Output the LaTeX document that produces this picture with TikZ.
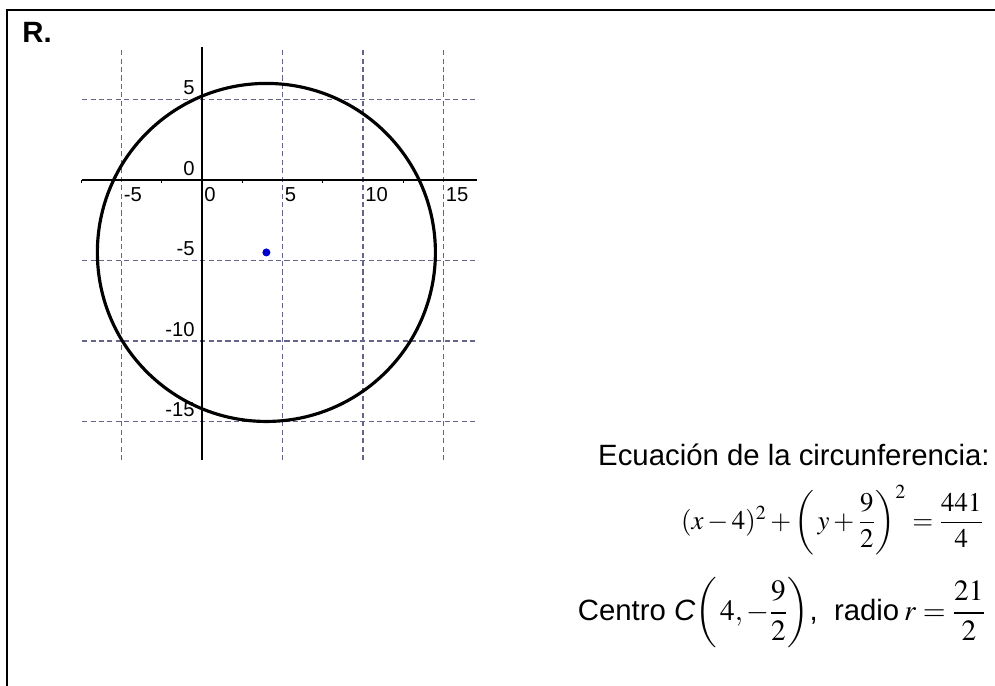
\documentclass[tikz,border=0pt]{standalone}
\usepackage{amsmath}
\usepackage{mathptmx}
\usepackage[no-math]{fontspec}
\setmainfont{Liberation Sans}
\usetikzlibrary{positioning}
\definecolor{gridgray}{HTML}{65658C}
\definecolor{ptblue}{HTML}{0000CC}
\tikzset{
  gridline/.style={gridgray,line width=1pt,dash pattern=on 2.9pt off 1.9pt},
  axislab/.style={inner sep=0pt,font=\fontsize{11.5pt}{13pt}\selectfont},
  bigtext/.style={inner sep=0pt,font=\fontsize{16.7pt}{20pt}\selectfont}
}
\begin{document}
\begin{tikzpicture}[x=0.02cm,y=-0.02cm]
  \useasboundingbox (0,0) rectangle (995,686);
  % frame
  \draw[line width=1.13pt] (7,686) -- (7,10) -- (995,10);
  \node[bigtext,anchor=north west,font=\fontsize{16.7pt}{20pt}\selectfont\bfseries] (title) at (22,22) {R.};
  % plot
  \begin{scope}[shift={(202,180)},x=0.322cm,y=0.322cm]
    \foreach \xx in {-5,5,10,15}
      \draw[gridline] (\xx,-17.4) -- (\xx,8.26);
    \foreach \yy in {5,-5,-10,-15}
      \draw[gridline] (-7.45,\yy) -- (17.1,\yy);
    \draw[line width=0.85pt] (-7.45,0) -- (17.1,0);
    \draw[line width=0.85pt] (0,-17.4) -- (0,8.26);
    \foreach \xx in {-7.5,-2.5,2.5,7.5,12.5}
      \draw[line width=0.7pt] (\xx,0) -- (\xx,-0.2);
    \foreach \xx in {-5,0,5,10,15}
      \node[axislab,anchor=north west,xshift=0.04cm,yshift=-0.15cm] (xl\xx) at (\xx,0) {\xx};
    \foreach \yy in {5,0,-5,-10,-15}
      \node[axislab,anchor=south east,xshift=-0.14cm,yshift=0.08cm] (yl\yy) at (0,\yy) {\yy};
    \draw[line width=1.8pt] (4,-4.5) circle[radius=10.5];
    \fill[ptblue] (4,-4.5) circle[radius=0.08cm];
    \coordinate (ctr) at (4,-4.5);
  \end{scope}
  % text
  \node[bigtext,anchor=base east] (ecua) at (990,465) {Ecuación de la circunferencia:};
  \node[bigtext,anchor=east,font=\fontsize{15.3pt}{18pt}\selectfont] (eqn) at (984,520)
    {$(x-4)^2+\left(\,y+\dfrac{9}{2}\right)^{2}=\dfrac{441}{4}$};
  \node[bigtext,anchor=east] (centro) at (986,613)
    {Centro \textit{C}$\left(\,4,-\dfrac{9}{2}\right)$,\ \ radio\,$r=\dfrac{21}{2}$};
\end{tikzpicture}
\end{document}
